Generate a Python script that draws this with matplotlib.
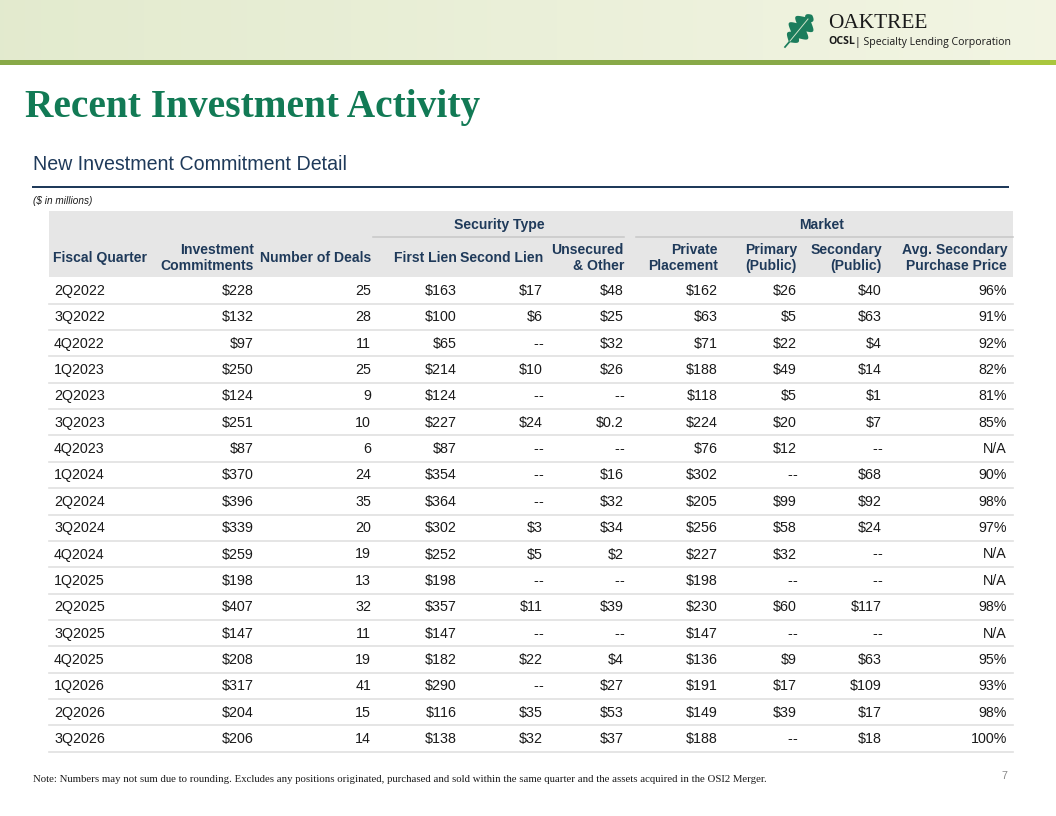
import numpy as np
import matplotlib.pyplot as plt
from matplotlib.patches import Rectangle, Polygon

quarters = ["2Q2022", "3Q2022", "4Q2022", "1Q2023", "2Q2023", "3Q2023", "4Q2023", "1Q2024", "2Q2024",
            "3Q2024", "4Q2024", "1Q2025", "2Q2025", "3Q2025", "4Q2025", "1Q2026", "2Q2026", "3Q2026"]
commitments = [228, 132, 97, 250, 124, 251, 87, 370, 396, 339, 259, 198, 407, 147, 208, 317, 204, 206]
deals = [25, 28, 11, 25, 9, 10, 6, 24, 35, 20, 19, 13, 32, 11, 19, 41, 15, 14]
first_lien = [163, 100, 65, 214, 124, 227, 87, 354, 364, 302, 252, 198, 357, 147, 182, 290, 116, 138]
second_lien = [17, 6, None, 10, None, 24, None, None, None, 3, 5, None, 11, None, 22, None, 35, 32]
unsecured = [48, 25, 32, 26, None, 0.2, None, 16, 32, 34, 2, None, 39, None, 4, 27, 53, 37]
private = [162, 63, 71, 188, 118, 224, 76, 302, 205, 256, 227, 198, 230, 147, 136, 191, 149, 188]
primary = [26, 5, 22, 49, 5, 20, 12, None, 99, 58, 32, None, 60, None, 9, 17, 39, None]
secondary = [40, 63, 4, 14, 1, 7, None, 68, 92, 24, None, None, 117, None, 63, 109, 17, 18]
avg_price = [96, 91, 92, 82, 81, 85, None, 90, 98, 97, None, None, 98, None, 95, 93, 98, 100]

col_heads = [("Investment", "Commitments"), ("Number of Deals",), ("First Lien",), ("Second Lien",),
             ("Unsecured", "& Other"), ("Private", "Placement"), ("Primary", "(Public)"),
             ("Secondary", "(Public)"), ("Avg. Secondary", "Purchase Price")]


def money(v):
    return None if v is None else f"${v:g}"


def pct(v):
    return "N/A" if v is None else f"{v}%"


columns = [
    [money(v) for v in commitments],
    [str(v) for v in deals],
    [money(v) for v in first_lien],
    [money(v) for v in second_lien],
    [money(v) for v in unsecured],
    [money(v) for v in private],
    [money(v) for v in primary],
    [money(v) for v in secondary],
    [pct(v) for v in avg_price],
]
col_right = [254, 371, 457, 543, 624, 718, 797, 882, 1007]

NAVY = "#1f3a5a"
TEXT = "#1a1a1a"
SANS = ["Liberation Sans", "DejaVu Sans"]
SERIF = ["Liberation Serif", "DejaVu Serif"]
LOGO = ["Open Sans", "DejaVu Sans"]

fig = plt.figure(figsize=(11, 8.5), dpi=96)
ax = fig.add_axes([0, 0, 1, 1])
ax.set_xlim(0, 1056)
ax.set_ylim(816, 0)
ax.axis("off")

# header band
grad = np.linspace(0, 1, 256)
band = np.zeros((1, 256, 3))
c0 = np.array([0.89, 0.92, 0.81])
c1 = np.array([0.95, 0.96, 0.89])
band[0] = c0 + (c1 - c0) * grad[:, None]
ax.imshow(band, extent=(0, 1056, 60, 0), aspect="auto", zorder=0)
ax.add_patch(Rectangle((0, 60), 1056, 4.5, color="#88a948", lw=0, zorder=1))
ax.add_patch(Rectangle((990, 60), 66, 4.5, color="#a9c63d", lw=0, zorder=1))

# oak leaf
s = np.linspace(0, 1, 200)
w = 0.36 * np.sin(np.pi * s) ** 0.7 * (0.5 + 0.5 * np.abs(np.sin(3.5 * np.pi * s + 0.3)))
base = np.array([789.0, 42.0])
d = np.array([23.0, -27.0])
n = np.array([27.0, 23.0])
left = base + s[:, None] * d + w[:, None] * n
right = base + s[:, None] * d - w[:, None] * n
ax.add_patch(Polygon(np.vstack([left, right[::-1]]), closed=True, color="#1b7d5c", lw=0, zorder=2))
ax.plot([785, 791], [47, 40], color="#1b7d5c", lw=1.3, zorder=2)
ax.plot([790, 808], [41, 19], color="#d5e6cc", lw=0.7, zorder=3)

ax.text(828, 23, "OAKTREE", family=SERIF, fontsize=16, color="#1a1a1a", va="center", ha="left")
ax.text(828, 42, "OCSL", family=LOGO, fontweight="bold", fontsize=7.9, color="#1a1a1a",
        va="center", ha="left")
ax.text(855, 42, "| Specialty Lending Corporation", family=LOGO, fontsize=7.9, color="#1a1a1a",
        va="center", ha="left")

# titles
ax.text(25, 108, "Recent Investment Activity", family=SERIF, fontweight="bold", fontsize=29.5,
        color="#127a55", va="center", ha="left")
ax.text(33, 165, "New Investment Commitment Detail", family=SANS, fontsize=14.7, color=NAVY,
        va="center", ha="left")
ax.plot([33, 1008], [187, 187], color=NAVY, lw=1.5)
ax.text(33, 201, "($ in millions)", family=SANS, style="italic", fontsize=7.5, color=TEXT,
        va="center", ha="left")

# table header
ax.add_patch(Rectangle((49, 211), 964, 66, color="#e6e6e6", lw=0, zorder=1))
ax.text(499, 225, "Security Type", family=SANS, fontweight="bold", fontsize=10.5, color=NAVY,
        va="center", ha="center", zorder=3)
ax.text(822, 225, "Market", family=SANS, fontweight="bold", fontsize=10.5, color=NAVY,
        va="center", ha="center", zorder=3)
ax.plot([373, 624], [237, 237], color="#c9c9c9", lw=1.2, zorder=2)
ax.plot([636, 1013], [237, 237], color="#c9c9c9", lw=1.2, zorder=2)
ax.text(53, 258, "Fiscal Quarter", family=SANS, fontweight="bold", fontsize=10.5, color=NAVY,
        va="center", ha="left", zorder=3)
for x, head in zip(col_right, col_heads):
    if len(head) == 1:
        ax.text(x, 258, head[0], family=SANS, fontweight="bold", fontsize=10.5, color=NAVY,
                va="center", ha="right", zorder=3)
    else:
        ax.text(x, 250, head[0], family=SANS, fontweight="bold", fontsize=10.5, color=NAVY,
                va="center", ha="right", zorder=3)
        ax.text(x, 266, head[1], family=SANS, fontweight="bold", fontsize=10.5, color=NAVY,
                va="center", ha="right", zorder=3)

# body rows
step = 26.35
for i, q in enumerate(quarters):
    y = 291 + i * step
    ax.text(54, y, q, family=SANS, fontsize=10.7, color=TEXT, va="center", ha="left")
    for x, col in zip(col_right, columns):
        if col[i] is None:
            # "--" drawn as two separate hyphens (kerning would merge them)
            for dx in (0, 4.6):
                ax.text(x - dx, y, "-", family=SANS, fontsize=10.7, color=TEXT, va="center", ha="right")
        else:
            ax.text(x, y, col[i], family=SANS, fontsize=10.7, color=TEXT, va="center", ha="right")
    ax.plot([49, 1013], [y + 12.7, y + 12.7], color="#e2e2e2", lw=1.3)

# footer
ax.text(33, 780, "Note: Numbers may not sum due to rounding. Excludes any positions originated, purchased and sold "
        "within the same quarter and the assets acquired in the OSI2 Merger.",
        family=SERIF, fontsize=8.1, color=TEXT, va="center", ha="left")
ax.text(1007, 776, "7", family=SANS, fontsize=8, color="#8a8a8a", va="center", ha="right")

fig.savefig("out.png", dpi=96)
